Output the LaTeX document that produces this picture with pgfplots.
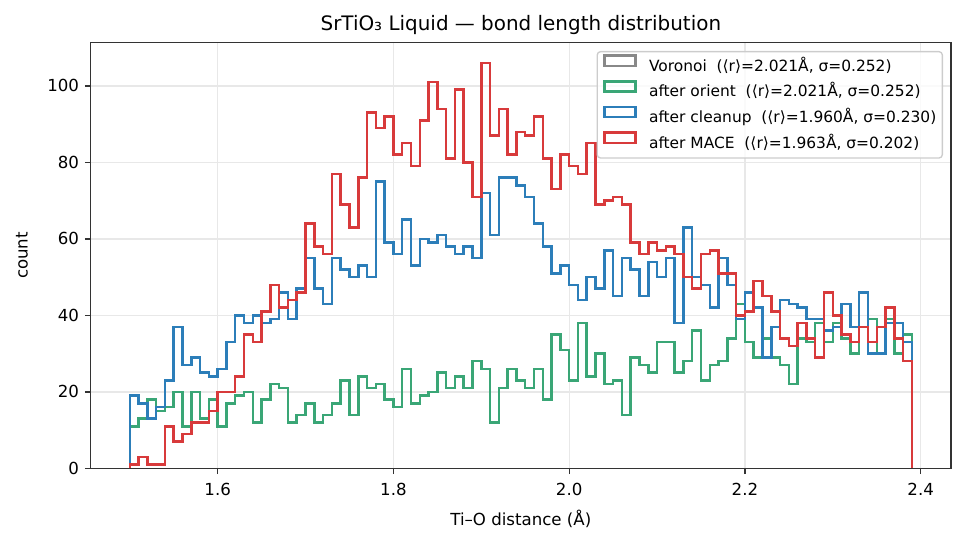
\documentclass[border=0pt]{standalone}
\usepackage{fontspec}
\setmainfont{DejaVu Sans}
\usepackage{pgfplots}
\pgfplotsset{compat=1.18}
\usepackage{pgfplotstable}
\definecolor{cgrey}{HTML}{888888}
\definecolor{cgreen}{HTML}{3AA676}
\definecolor{cblue}{HTML}{2C7EB9}
\definecolor{cred}{HTML}{D83A3B}
\definecolor{spine}{HTML}{333333}

\pgfplotstableread{
x g b r
1.50 0 0 0
1.50 11 19 1
1.51 13 17 3
1.52 18 13 1
1.53 15 16 1
1.54 16 23 11
1.55 20 37 7
1.56 11 27 9
1.57 20 29 12
1.58 13 25 12
1.59 18 24 15
1.60 11 26 20
1.61 17 33 20
1.62 19 40 24
1.63 20 38 35
1.64 12 40 33
1.65 18 38 41
1.66 22 39 48
1.67 21 46 42
1.68 12 39 44
1.69 14 47 46
1.70 17 55 64
1.71 12 47 58
1.72 14 43 56
1.73 17 55 77
1.74 23 52 69
1.75 14 50 63
1.76 24 53 76
1.77 21 50 93
1.78 22 75 89
1.79 18 59 92
1.80 16 56 82
1.81 26 65 85
1.82 17 53 79
1.83 19 60 91
1.84 20 59 101
1.85 25 61 94
1.86 21 58 81
1.87 24 56 99
1.88 21 58 80
1.89 28 55 71
1.90 26 72 106
1.91 12 61 87
1.92 21 76 94
1.93 26 76 82
1.94 23 74 88
1.95 21 71 87
1.96 26 64 92
1.97 18 58 81
1.98 35 51 73
1.99 31 53 82
2.00 23 48 79
2.01 38 44 77
2.02 24 50 85
2.03 30 47 69
2.04 22 57 70
2.05 23 45 71
2.06 14 55 69
2.07 29 52 59
2.08 27 45 56
2.09 25 54 59
2.10 33 50 57
2.11 33 55 58
2.12 25 38 56
2.13 28 63 50
2.14 36 50 47
2.15 23 48 56
2.16 27 42 57
2.17 28 55 51
2.18 34 48 51
2.19 43 39 40
2.20 33 46 41
2.21 29 42 49
2.22 34 29 45
2.23 29 37 41
2.24 27 44 34
2.25 22 43 32
2.26 34 42 38
2.27 33 39 34
2.28 38 39 29
2.29 33 36 46
2.30 38 37 40
2.31 34 43 35
2.32 30 37 33
2.33 37 46 37
2.34 39 30 33
2.35 30 30 37
2.36 39 38 42
2.37 30 38 34
2.38 35 33 28
2.39 35 33 28
2.39 0 0 0
}\hist

\begin{document}
\begin{tikzpicture}
\path[use as bounding box] (-54.4bp,-45.4bp) rectangle (524.6bp,281bp);
\begin{axis}[
  at={(0,0)}, anchor=south west,
  scale only axis, width=516.2bp, height=255.4bp,
  xmin=1.4555, xmax=2.4345, ymin=0, ymax=111.3,
  xtick={1.6,1.8,2.0,2.2,2.4}, xticklabels={1.6,1.8,2.0,2.2,2.4},
  ytick={0,20,40,60,80,100},
  tick align=outside, major tick length=3.5bp,
  xtick pos=bottom, ytick pos=left,
  tick style={spine, line width=0.8bp},
  axis line style={spine, line width=0.8bp},
  grid=major, major grid style={color=black!9, line width=0.8bp},
  /pgf/number format/assume math mode=true,
  ticklabel style={font=\fontsize{10}{12}\selectfont},
  xticklabel style={yshift=-1.8bp},
  every axis title shift=0pt,
  title={SrTiO₃ Liquid — bond length distribution},
  title style={font=\fontsize{12}{14}\selectfont, at={(axis description cs:0.5,1.0415)}, anchor=center},
  xlabel={Ti–O distance (Å)},
  xlabel style={font=\fontsize{10}{12}\selectfont, at={(axis description cs:0.5,-0.1198)}, anchor=center},
  ylabel={count},
  every axis y label/.style={font=\fontsize{10}{12}\selectfont, at={(axis description cs:-0.0798,0.5)}, rotate=90, anchor=center},
  legend cell align=left,
  legend style={at={(axis description cs:1,1)}, anchor=north east, xshift=-4.8bp, yshift=-5bp,
    draw=black!20, line width=0.8bp, rounded corners=2bp, fill=white, fill opacity=0.8, draw opacity=1, text opacity=1,
    inner xsep=3.6bp, inner ysep=1.1bp, row sep=0pt, column sep=0pt,
    font=\fontsize{9.3}{11}\selectfont,
    nodes={inner sep=0pt, text height=10.7bp, text depth=4.7bp}},
  legend image code/.code={\draw[#1, sharp corners] (0bp,0.3bp) rectangle (18.6bp,6.4bp); \path (26bp,0bp);},
]
\addplot[cgrey, line width=1.5bp, const plot] table[x=x,y=g] {\hist};
\addlegendentry{Voronoi\ \ (⟨r⟩=2.021Å, σ=0.252)}
\addplot[cgreen, line width=1.5bp, const plot] table[x=x,y=g] {\hist};
\addlegendentry{after orient\ \ (⟨r⟩=2.021Å, σ=0.252)}
\addplot[cblue, line width=1.5bp, const plot] table[x=x,y=b] {\hist};
\addlegendentry{after cleanup\ \ (⟨r⟩=1.960Å, σ=0.230)}
\addplot[cred, line width=1.5bp, const plot] table[x=x,y=r] {\hist};
\addlegendentry{after MACE\ \ (⟨r⟩=1.963Å, σ=0.202)}
\end{axis}
\end{tikzpicture}
\end{document}
